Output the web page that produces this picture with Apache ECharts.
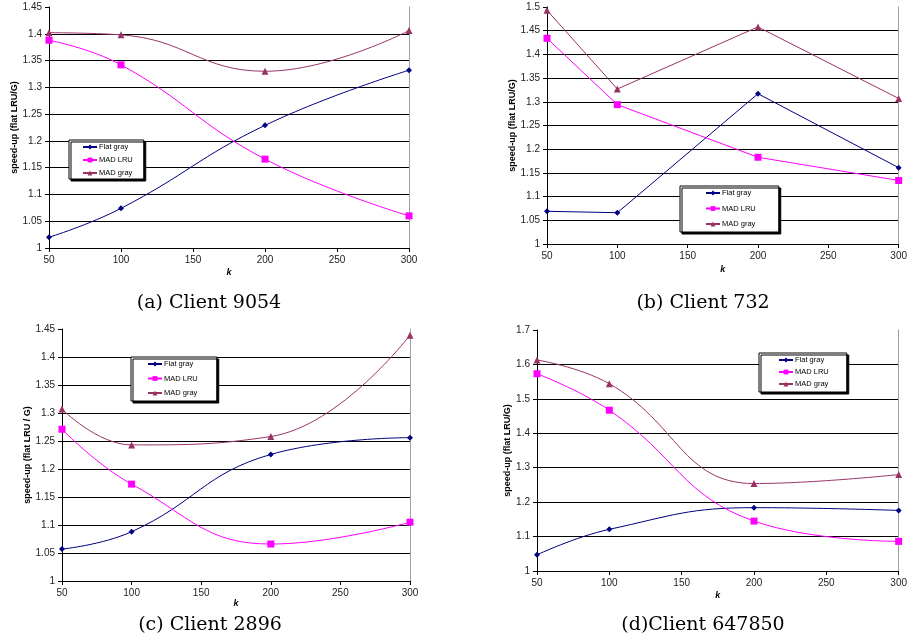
<!DOCTYPE html>
<html>
<head>
<meta charset="utf-8">
<script src="https://cdn.jsdelivr.net/npm/echarts@6/dist/echarts.min.js"></script>
<style>
  html, body { margin: 0; padding: 0; background: #fff; }
  #chart { width: 910px; height: 643px; }
</style>
</head>
<body>
<div id="chart"></div>
<script>
// Cache size k on the x axis
const kValues = [50, 100, 200, 300];
const seriesNames = ['Flat gray', 'MAD LRU', 'MAD gray'];

// (a) Client 9054
const flatGrayA = [1.020, 1.074, 1.229, 1.332];
const madLruA   = [1.388, 1.342, 1.166, 1.060];
const madGrayA  = [1.402, 1.398, 1.330, 1.406];

// (b) Client 732
const flatGrayB = [1.069, 1.066, 1.317, 1.161];
const madLruB   = [1.434, 1.294, 1.183, 1.134];
const madGrayB  = [1.493, 1.327, 1.458, 1.307];

// (c) Client 2896
const flatGrayC = [1.057, 1.088, 1.226, 1.256];
const madLruC   = [1.271, 1.173, 1.066, 1.105];
const madGrayC  = [1.307, 1.243, 1.258, 1.439];

// (d) Client 647850
const flatGrayD = [1.047, 1.121, 1.184, 1.176];
const madLruD   = [1.573, 1.467, 1.145, 1.086];
const madGrayD  = [1.613, 1.544, 1.254, 1.280];

const captions = ['(a) Client 9054', '(b) Client 732', '(c) Client 2896', '(d)Client 647850'];
const yNames = ['speed-up (flat LRU/G)', 'speed-up (flat LRU/G)', 'speed-up (flat LRU / G)', 'speed-up (flat LRU/G)'];

const panels = [
  { data: [flatGrayA, madLruA, madGrayA], yMax: 1.45, yStep: 0.05, smooth: true,
    grid: { left: 49, top: 7, width: 360, height: 241 }, yGap: 30, xGap: 20,
    legend: { left: 69, top: 140, gap: 5, pad: [3, 11, 2, 13] }, caption: [209, 303] },
  { data: [flatGrayB, madLruB, madGrayB], yMax: 1.5, yStep: 0.05, smooth: false,
    grid: { left: 547, top: 7, width: 356, height: 237 }, yGap: 30, xGap: 21,
    legend: { left: 680, top: 186, gap: 7.5, pad: [3, 23, 4, 25] }, caption: [703, 303] },
  { data: [flatGrayC, madLruC, madGrayC], yMax: 1.45, yStep: 0.05, smooth: true,
    grid: { left: 62, top: 329, width: 348, height: 252 }, yGap: 28, xGap: 11,
    legend: { left: 131, top: 357, gap: 6.5, pad: [3, 19, 4, 16] }, caption: [210, 625] },
  { data: [flatGrayD, madLruD, madGrayD], yMax: 1.7, yStep: 0.1, smooth: true,
    grid: { left: 537, top: 330, width: 365, height: 241 }, yGap: 24, xGap: 20,
    legend: { left: 759, top: 353, gap: 4, pad: [3, 18, 4, 19] }, caption: [703, 625] }
];

const colors = ['#000080', '#ff00ff', '#993366'];
const symbols = ['diamond', 'rect', 'triangle'];
const symbolSizes = [6, 7, 7];

const sans = 'Liberation Sans, Arial, sans-serif';
const labelStyle = { fontFamily: sans, fontSize: 10, color: '#222' };

const option = {
  animation: false,
  backgroundColor: '#fff',
  grid: [], xAxis: [], yAxis: [], series: [], legend: [], graphic: []
};

panels.forEach((p, i) => {
  option.grid.push(Object.assign({ show: false }, p.grid));
  option.xAxis.push({
    type: 'value', gridIndex: i, min: 50, max: 300, interval: 50,
    name: 'k', nameLocation: 'middle', nameGap: p.xGap,
    nameTextStyle: { fontFamily: sans, fontSize: 9, fontWeight: 'bold', fontStyle: 'italic', color: '#000' },
    axisLine: { lineStyle: { color: '#000', width: 1 } },
    axisTick: { show: true, length: 4, lineStyle: { color: '#000' } },
    axisLabel: Object.assign({ margin: 7 }, labelStyle),
    splitLine: { show: false }
  });
  option.yAxis.push({
    type: 'value', gridIndex: i, min: 1, max: p.yMax, interval: p.yStep,
    name: yNames[i], nameLocation: 'middle', nameGap: p.yGap, nameRotate: 90,
    nameTextStyle: { fontFamily: sans, fontSize: 9, fontWeight: 'bold', color: '#000' },
    axisLine: { show: true, lineStyle: { color: '#000', width: 1 } },
    axisTick: { show: true, length: 4, lineStyle: { color: '#000' } },
    axisLabel: Object.assign({ margin: 7 }, labelStyle),
    splitLine: { show: true, showMaxLine: false, lineStyle: { color: '#000', width: 1 } }
  });
  p.data.forEach((vals, s) => {
    option.series.push({
      name: seriesNames[s], type: 'line', xAxisIndex: i, yAxisIndex: i,
      data: kValues.map((k, j) => [k, vals[j]]),
      smooth: p.smooth ? 0.45 : false,
      symbol: symbols[s], symbolSize: symbolSizes[s],
      itemStyle: { color: colors[s] },
      lineStyle: { color: colors[s], width: 1 },
      z: 3 + s
    });
  });
  option.legend.push({
    data: seriesNames, orient: 'vertical', left: p.legend.left, top: p.legend.top,
    itemWidth: 14, itemHeight: 6, itemGap: p.legend.gap,
    padding: p.legend.pad,
    backgroundColor: '#fff', borderColor: '#000', borderWidth: 1,
    shadowColor: '#000', shadowOffsetX: 2, shadowOffsetY: 2, shadowBlur: 0,
    textStyle: { fontFamily: sans, fontSize: 7.5, lineHeight: 8, color: '#000', padding: [0, 0, 0, -3] },
    selectedMode: false
  });
  option.graphic.push({
    type: 'text', x: p.caption[0], y: p.caption[1],
    style: { text: captions[i], fontFamily: 'DejaVu Serif, serif', fontSize: 19,
             fill: '#000', textAlign: 'center', textVerticalAlign: 'middle' }
  });
});

// Plain grey right-hand border of each plot area
panels.forEach((p, i) => {
  option.yAxis.push({
    type: 'value', gridIndex: i, position: 'right', min: 1, max: p.yMax,
    axisLine: { show: true, lineStyle: { color: '#a0a0a0', width: 1 } },
    axisTick: { show: false }, axisLabel: { show: false }, splitLine: { show: false }
  });
});

const chart = echarts.init(document.getElementById('chart'), null, { renderer: 'canvas' });
chart.setOption(option);
</script>
</body>
</html>
